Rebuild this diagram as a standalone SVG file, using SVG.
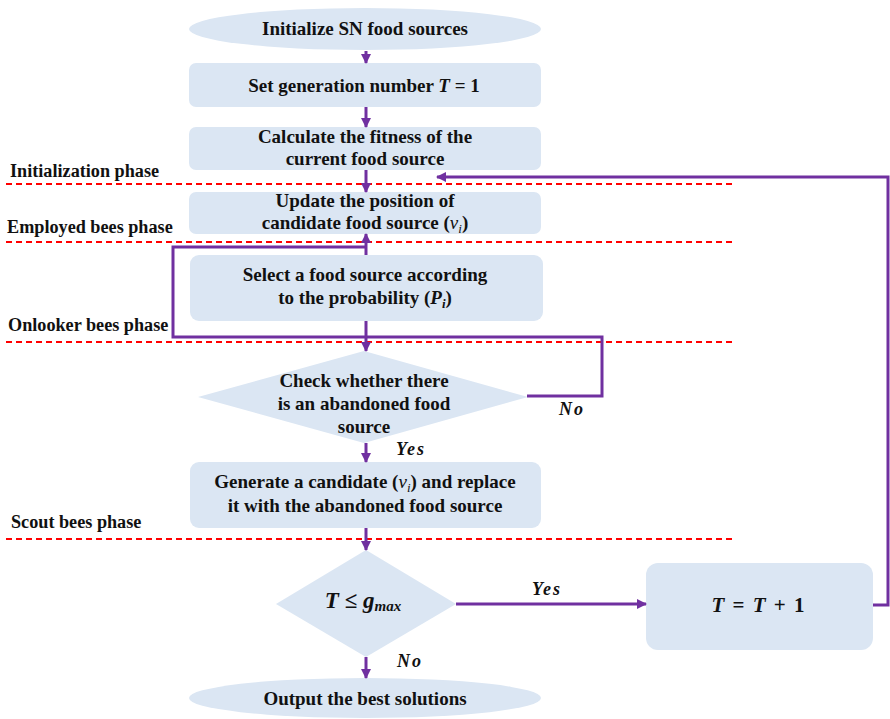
<svg xmlns="http://www.w3.org/2000/svg" width="890" height="719" viewBox="0 0 890 719">
<style>
.n{fill:#dbe6f3;stroke:none}
.t{font-family:"Liberation Serif","Times New Roman",serif;font-weight:bold;font-size:19px;fill:#111;text-anchor:middle}
.m{font-style:italic}
.v{font-style:italic;font-weight:normal}
.s{font-style:italic;font-size:13px}
.sv{font-style:italic;font-weight:normal;font-size:13px}
.ph{font-family:"Liberation Serif","Times New Roman",serif;font-weight:bold;font-size:18.2px;fill:#111}
.lb{font-family:"Liberation Serif","Times New Roman",serif;font-weight:bold;font-style:italic;font-size:18px;letter-spacing:2px;fill:#111;text-anchor:middle}
.c{fill:none;stroke:#7030a0;stroke-width:3}
.d{stroke:#ff0000;stroke-width:2;stroke-dasharray:6,4}
</style>
<defs>
<marker id="ah" viewBox="0 0 10 10" refX="9" refY="5" markerWidth="3.4" markerHeight="3.4" orient="auto" markerUnits="strokeWidth">
<path d="M0,0 L10,5 L0,10 z" fill="#7030a0"/>
</marker>
</defs>
<g id="phases">
<line class="d" x1="6" y1="184" x2="735" y2="184"/>
<line class="d" x1="6" y1="242" x2="735" y2="242"/>
<line class="d" x1="6" y1="342" x2="735" y2="342"/>
<line class="d" x1="6" y1="539" x2="735" y2="539"/>
<text class="ph" x="10" y="177">Initialization phase</text>
<text class="ph" x="7" y="233">Employed bees phase</text>
<text class="ph" x="8" y="331">Onlooker bees phase</text>
<text class="ph" x="11" y="528">Scout bees phase</text>
</g>
<g id="n1"><ellipse class="n" cx="365" cy="29" rx="176" ry="21"/><text class="t" x="365" y="35">Initialize SN food sources</text></g>
<g id="n2"><rect class="n" x="189" y="63" width="352" height="44" rx="7"/><text class="t" x="364" y="92">Set generation number <tspan class="m">T</tspan><tspan> = 1</tspan></text></g>
<g id="n3"><rect class="n" x="189" y="127" width="352" height="43" rx="7"/><text class="t" x="365" y="143">Calculate the fitness of the</text><text class="t" x="365" y="165">current food source</text></g>
<g id="n4"><rect class="n" x="189" y="192" width="352" height="42" rx="7"/><text class="t" x="365" y="207">Update the position of</text><text class="t" x="365" y="229">candidate food source (<tspan class="v">v</tspan><tspan class="sv" dy="4">i</tspan><tspan dy="-4">)</tspan></text></g>
<g id="n5"><rect class="n" x="190" y="255" width="353" height="66" rx="9"/><text class="t" x="365" y="281">Select a food source according</text><text class="t" x="365" y="304">to the probability (<tspan class="m">P</tspan><tspan class="s" dy="4">i</tspan><tspan dy="-4">)</tspan></text></g>
<g id="n6"><polygon class="n" points="364,351 528,397 364,443 198,397"/><text class="t" x="364" y="387">Check whether there</text><text class="t" x="364" y="410">is an abandoned food</text><text class="t" x="364" y="433">source</text></g>
<g id="n7"><rect class="n" x="190" y="462" width="351" height="66" rx="9"/><text class="t" x="365" y="488">Generate a candidate (<tspan class="v">v</tspan><tspan class="sv" dy="4">i</tspan><tspan dy="-4">) and replace</tspan></text><text class="t" x="365" y="512">it with the abandoned food source</text></g>
<g id="n8"><polygon class="n" points="366,550 456,604 366,657 276,604"/><text class="t" x="363" y="608" style="font-size:23px"><tspan class="m">T</tspan> ≤ <tspan class="m">g</tspan><tspan class="m" style="font-size:15px" dy="3">max</tspan></text></g>
<g id="n9"><rect class="n" x="646" y="563" width="227" height="87" rx="12"/><text class="t" x="758" y="612" style="font-size:21px;word-spacing:3px"><tspan class="m">T</tspan> = <tspan class="m">T</tspan> + 1</text></g>
<g id="n10"><ellipse class="n" cx="365" cy="698" rx="176" ry="20"/><text class="t" x="365" y="705">Output the best solutions</text></g>
<g id="connectors">
<line class="c" x1="366" y1="51" x2="366" y2="63" marker-end="url(#ah)"/>
<line class="c" x1="366" y1="107" x2="366" y2="127" marker-end="url(#ah)"/>
<line class="c" x1="366" y1="170" x2="366" y2="192" marker-end="url(#ah)"/>
<line class="c" x1="366" y1="255" x2="366" y2="234" marker-end="url(#ah)"/>
<polyline class="c" points="366,247 173,247 173,337 602,337 602,396 527,396"/>
<line class="c" x1="366" y1="321" x2="366" y2="351" marker-end="url(#ah)"/>
<line class="c" x1="366" y1="443" x2="366" y2="462" marker-end="url(#ah)"/>
<line class="c" x1="366" y1="528" x2="366" y2="550" marker-end="url(#ah)"/>
<line class="c" x1="456" y1="604" x2="646" y2="604" marker-end="url(#ah)"/>
<line class="c" x1="366" y1="657" x2="366" y2="678" marker-end="url(#ah)"/>
<polyline class="c" points="873,605 888,605 888,177 437,177" marker-end="url(#ah)"/>
<text class="lb" x="572" y="415">No</text>
<text class="lb" x="411" y="455">Yes</text>
<text class="lb" x="547" y="595">Yes</text>
<text class="lb" x="410" y="667">No</text>
</g>
</svg>
